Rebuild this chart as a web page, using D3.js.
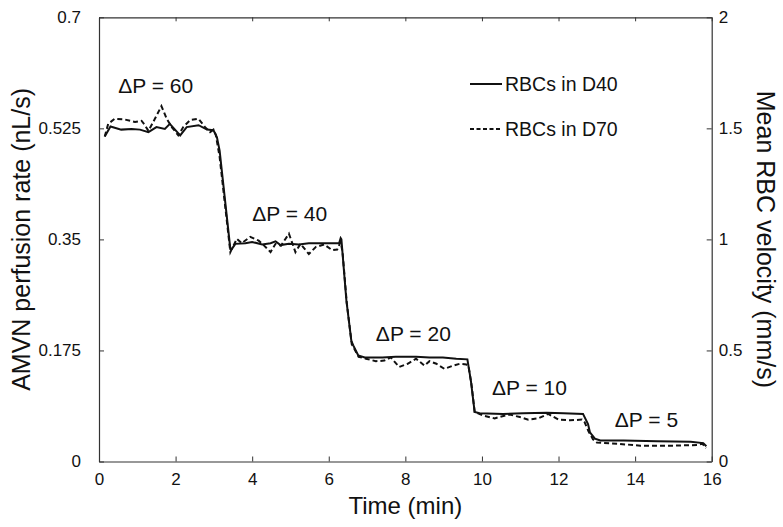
<html>
<head>
<script src="https://cdn.jsdelivr.net/npm/d3@7"></script>
<style type="text/css">
body {
	margin: 0;
	background: #fff;
	font-family: Arial, "Liberation Sans", Helvetica, sans-serif;
}
.axis text {
	font-family: Arial, "Liberation Sans", sans-serif;
	font-size: 17px;
	fill: #111;
}
.axis path, .axis line {
	stroke: #333;
}
</style>
</head>
<body>
<script>
	//time in minutes, perfusion rate in nL/s
	var timeD40 = [0.15, 0.3, 0.58, 0.85, 1.07, 1.29, 1.5, 1.72, 1.85, 2.12, 2.29, 2.6, 2.82, 2.99, 3.08, 3.15, 3.43,
		3.47, 3.56, 3.82, 4.0, 4.26, 4.48, 4.61, 4.74, 4.96, 5.22, 5.48, 5.83, 6.27, 6.31, 6.33, 6.46, 6.59, 6.64, 6.77, 6.94,
		7.4, 7.75, 8.28, 8.63, 8.98, 9.33, 9.62, 9.71, 9.81, 9.94,
		10.55, 11.08, 11.69, 12.13, 12.64, 12.77, 12.82, 12.95, 13.09,
		13.7, 14.58, 15.45, 15.78, 15.86];
	var rateD40 = [0.512, 0.528, 0.523, 0.524, 0.523, 0.519, 0.527, 0.524, 0.532, 0.514, 0.527, 0.53, 0.523, 0.522, 0.511, 0.49, 0.335,
		0.335, 0.343, 0.344, 0.346, 0.342, 0.344, 0.347, 0.341, 0.343, 0.342, 0.344, 0.344, 0.344, 0.352, 0.35, 0.254, 0.19, 0.183, 0.167, 0.164,
		0.164, 0.165, 0.165, 0.164, 0.164, 0.162, 0.161, 0.128, 0.078, 0.076,
		0.075, 0.076, 0.077, 0.076, 0.075, 0.059, 0.046, 0.036, 0.033,
		0.033, 0.032, 0.031, 0.029, 0.024];

	var timeD70 = [0.15, 0.24, 0.41, 0.67, 0.94, 1.11, 1.2, 1.29, 1.46, 1.63, 1.77, 1.9, 2.07, 2.2, 2.38, 2.6, 2.77, 2.9, 2.99, 3.05, 3.15, 3.43,
		3.47, 3.6, 3.73, 3.95, 4.17, 4.3, 4.48, 4.61, 4.75, 4.96, 5.13, 5.26, 5.48, 5.66, 5.88, 6.09, 6.22, 6.31, 6.36, 6.47, 6.6, 6.78,
		6.97, 7.23, 7.45, 7.62, 7.84, 8.06, 8.28, 8.5, 8.63, 8.81, 9.02, 9.24, 9.42, 9.59, 9.65, 9.73, 9.81,
		10.03, 10.33, 10.51, 10.73, 10.99, 11.21, 11.47, 11.73, 12.0, 12.3, 12.61, 12.68, 12.78, 12.9,
		13.0, 13.18, 13.53, 14.14, 15.01, 15.62, 15.76, 15.85];
	var rateD70 = [0.512, 0.532, 0.54, 0.539, 0.535, 0.537, 0.53, 0.521, 0.54, 0.56, 0.54, 0.527, 0.514, 0.527, 0.538, 0.54, 0.527, 0.519, 0.523, 0.515, 0.48, 0.33,
		0.335, 0.351, 0.344, 0.354, 0.348, 0.341, 0.33, 0.343, 0.34, 0.359, 0.33, 0.343, 0.327, 0.338, 0.342, 0.333, 0.334, 0.346, 0.33, 0.25, 0.185, 0.165,
		0.162, 0.158, 0.159, 0.164, 0.149, 0.154, 0.162, 0.151, 0.158, 0.154, 0.146, 0.151, 0.154, 0.153, 0.15, 0.12, 0.078,
		0.0725, 0.068, 0.071, 0.074, 0.07, 0.066, 0.068, 0.075, 0.066, 0.065, 0.066, 0.062, 0.048, 0.035,
		0.03, 0.029, 0.028, 0.025, 0.025, 0.026, 0.028, 0.021];

	//pressure drop labels, anchored at (time, rate) of the text's left baseline
	var dpLabels = ['\u0394P = 60', '\u0394P = 40', '\u0394P = 20', '\u0394P = 10', '\u0394P = 5'];
	var dpTimes = [0.5, 4.0, 7.23, 10.26, 13.47];
	var dpRates = [0.581, 0.379, 0.19, 0.105, 0.054];

	var xTicks = [0, 2, 4, 6, 8, 10, 12, 14, 16];
	var yLeftTicks = [0, 0.175, 0.35, 0.525, 0.7];
	var yRightTicks = [0, 0.5, 1, 1.5, 2];
	var seriesNames = ['RBCs in D40', 'RBCs in D70'];

	var width = 783;
	var height = 527;
	var margin = {top: 17.3, right: 71.3, bottom: 65.5, left: 99};
	var innerW = width - margin.left - margin.right;
	var innerH = height - margin.top - margin.bottom;

	var svg = d3.select('body').append('svg').attr('width', width).attr('height', height);
	var origin = svg.append('g').attr('transform', 'translate(' + margin.left + ',' + margin.top + ')');

	var x = d3.scaleLinear().domain([0, 16]).range([0, innerW]);
	var y = d3.scaleLinear().domain([0, 0.7]).range([innerH, 0]);
	var y2 = d3.scaleLinear().domain([0, 2]).range([innerH, 0]);

	var fmtLeft = function(d) { return d == 0 ? '0' : String(d); };

	//axes, all ticks point into the plot
	origin.append('g').attr('class', 'axis').attr('transform', 'translate(0,' + innerH + ')')
		.call(d3.axisBottom(x).tickValues(xTicks).tickSizeInner(-5).tickSizeOuter(0).tickPadding(11).tickFormat(d3.format('d')));
	origin.append('g').attr('class', 'axis')
		.call(d3.axisTop(x).tickValues(xTicks).tickSizeInner(-4).tickSizeOuter(0).tickFormat(''));
	origin.append('g').attr('class', 'axis')
		.call(d3.axisLeft(y).tickValues(yLeftTicks).tickSizeInner(-5).tickSizeOuter(0).tickPadding(18).tickFormat(fmtLeft));
	origin.append('g').attr('class', 'axis').attr('transform', 'translate(' + innerW + ',0)')
		.call(d3.axisRight(y2).tickValues(yRightTicks).tickSizeInner(-5).tickSizeOuter(0).tickPadding(7).tickFormat(fmtLeft));
	origin.selectAll('.axis .domain').attr('stroke-width', 1.2);

	var line = d3.line()
		.x(function(d) { return x(d[0]); })
		.y(function(d) { return y(d[1]); });

	var d40 = d3.zip(timeD40, rateD40);
	var d70 = d3.zip(timeD70, rateD70);

	origin.append('path').datum(d70).attr('fill', 'none').attr('stroke', '#111')
		.attr('stroke-width', 2).style('stroke-dasharray', '5,3').attr('d', line);
	origin.append('path').datum(d40).attr('fill', 'none').attr('stroke', '#111')
		.attr('stroke-width', 2).attr('d', line);

	//delta P annotations
	origin.selectAll('text.dp').data(dpLabels).enter().append('text').attr('class', 'dp')
		.attr('x', function(d, i) { return x(dpTimes[i]); })
		.attr('y', function(d, i) { return y(dpRates[i]); })
		.style('font-size', '21px').style('fill', '#111')
		.text(function(d) { return d; });

	//legend
	var legend = svg.append('g').attr('transform', 'translate(470,84)');
	seriesNames.forEach(function(name, i) {
		var row = legend.append('g').attr('transform', 'translate(0,' + (i * 45) + ')');
		row.append('line').attr('x1', 0).attr('x2', 32).attr('y1', 0).attr('y2', 0)
			.attr('stroke', '#111').attr('stroke-width', 2).style('stroke-dasharray', i == 1 ? '4,2.5' : null);
		row.append('text').attr('x', 35).attr('y', 7).style('font-size', '19.5px').style('fill', '#111').text(name);
	});

	//axis titles
	svg.append('text').attr('transform', 'translate(' + (margin.left + innerW / 2) + ',514)')
		.style('text-anchor', 'middle').style('font-size', '24px').style('fill', '#111').text('Time (min)');
	svg.append('text').attr('transform', 'translate(30,' + (margin.top + innerH / 2) + ') rotate(-90)')
		.style('text-anchor', 'middle').style('font-size', '25px').style('fill', '#111').text('AMVN perfusion rate (nL/s)');
	svg.append('text').attr('transform', 'translate(757,' + (margin.top + innerH / 2) + ') rotate(90)')
		.style('text-anchor', 'middle').style('font-size', '25px').style('fill', '#111').text('Mean RBC velocity (mm/s)');
</script>
</body>
</html>
